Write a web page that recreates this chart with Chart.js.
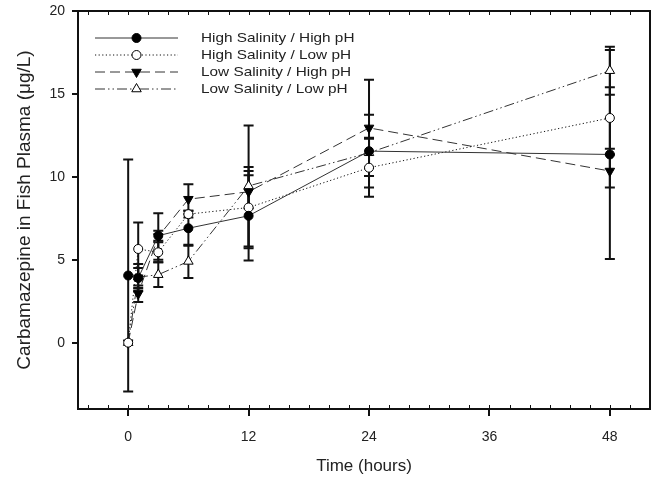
<!DOCTYPE html>
<html lang="en">
<head>
  <meta charset="utf-8"/>
  <title>Carbamazepine in Fish Plasma</title>
  <script src="https://cdn.jsdelivr.net/npm/chart.js"></script>
  <style>
    body { margin: 0; background: #fff; }
  </style>
</head>
<body>
  <canvas id="chart" width="661" height="485"></canvas>
  <script>
    // sampling times (hours)
    const times = [0, 1, 3, 6, 12, 24, 48];
    const xTickValues = [0, 12, 24, 36, 48];
    const yTickValues = [0, 5, 10, 15, 20];

    // means and error values
    const hsHighPH = [4.05, 3.9, 6.45, 6.9, 7.65, 11.55, 11.35];
    const hsHighPHErr = [7.0, 0.6, 0.3, 1.05, 2.7, 2.2, 6.3];
    const hsLowPH = [0, 5.65, 5.45, 7.75, 8.15, 10.55, 13.55];
    const hsLowPHErr = [0, 1.6, 0.6, 0.2, 2.45, 1.75, 1.85];
    const lsHighPH = [0, 2.95, 6.4, 8.65, 9.1, 12.95, 10.35];
    const lsHighPHErr = [0, 0.5, 1.4, 0.9, 1.0, 2.9, 1.0];
    const lsLowPH = [0, 3.95, 4.1, 4.9, 9.45, 11.45, 16.4];
    const lsLowPHErr = [0, 0.8, 0.75, 1.0, 3.65, 0.9, 1.45];

    const toPoints = vals => vals.map((v, i) => ({x: times[i], y: v}));
    const FONT = '"Liberation Sans", Arial, sans-serif';

    // vertical error bars with caps, drawn under the markers
    const errorBars = {
      id: 'errorBars',
      beforeDatasetsDraw(chart) {
        const ctx = chart.ctx;
        const xs = chart.scales.x, ys = chart.scales.y;
        ctx.save();
        ctx.strokeStyle = '#111';
        ctx.lineWidth = 2;
        ctx.setLineDash([]);
        chart.data.datasets.forEach(ds => {
          ds.data.forEach((p, j) => {
            const e = ds.errors[j];
            if (!e) return;
            const x = xs.getPixelForValue(p.x);
            const top = ys.getPixelForValue(p.y + e);
            const bot = ys.getPixelForValue(p.y - e);
            ctx.beginPath();
            ctx.moveTo(x, top); ctx.lineTo(x, bot);
            ctx.moveTo(x - 5, top); ctx.lineTo(x + 5, top);
            ctx.moveTo(x - 5, bot); ctx.lineTo(x + 5, bot);
            ctx.stroke();
          });
        });
        ctx.restore();
      }
    };

    // box frame plus sigmaplot-like tick marks
    const frame = {
      id: 'frame',
      afterDraw(chart) {
        const ctx = chart.ctx;
        const a = chart.chartArea;
        const xs = chart.scales.x, ys = chart.scales.y;
        ctx.save();
        ctx.strokeStyle = '#111';
        ctx.lineWidth = 2;
        ctx.strokeRect(a.left, a.top, a.right - a.left, a.bottom - a.top);
        ctx.lineWidth = 1;
        ctx.beginPath();
        for (let v = Math.ceil(xs.min / 2) * 2; v <= xs.max; v += 2) {
          const x = Math.round(xs.getPixelForValue(v)) + 0.5;
          ctx.moveTo(x, a.bottom); ctx.lineTo(x, a.bottom - 4);
          ctx.moveTo(x, a.top); ctx.lineTo(x, a.top + 4);
        }
        ctx.stroke();
        ctx.lineWidth = 2;
        ctx.beginPath();
        xTickValues.forEach(v => {
          const x = Math.round(xs.getPixelForValue(v));
          ctx.moveTo(x, a.bottom); ctx.lineTo(x, a.bottom + 7);
        });
        yTickValues.forEach(v => {
          const y = Math.round(ys.getPixelForValue(v));
          ctx.moveTo(a.left, y); ctx.lineTo(a.left - 6, y);
        });
        ctx.stroke();
        ctx.restore();
      }
    };

    // legend inside the plot: line sample with the marker in the middle
    const insideLegend = {
      id: 'insideLegend',
      afterDraw(chart) {
        const ctx = chart.ctx;
        const a = chart.chartArea;
        const x0 = a.left + 17, x1 = a.left + 100, tx = a.left + 123;
        ctx.save();
        chart.data.datasets.forEach((ds, i) => {
          const y = a.top + 27 + i * 17;
          ctx.strokeStyle = ds.borderColor;
          ctx.lineWidth = ds.borderWidth;
          ctx.setLineDash(ds.borderDash || []);
          ctx.beginPath();
          ctx.moveTo(x0, y); ctx.lineTo(x1, y);
          ctx.stroke();
          ctx.setLineDash([]);
          ctx.fillStyle = ds.pointBackgroundColor;
          ctx.strokeStyle = ds.pointBorderColor;
          ctx.lineWidth = ds.pointBorderWidth;
          Chart.helpers.drawPoint(ctx, {
            pointStyle: ds.pointStyle,
            radius: ds.pointRadius,
            rotation: ds.pointRotation || 0,
            borderWidth: ds.pointBorderWidth
          }, (x0 + x1) / 2, y);
          // the source figure's text is a bit wide, stretch it slightly
          ctx.save();
          ctx.translate(tx, y);
          ctx.scale(1.18, 1);
          ctx.fillStyle = '#222';
          ctx.font = '13px ' + FONT;
          ctx.textBaseline = 'middle';
          ctx.fillText(ds.label, 0, 0);
          ctx.restore();
        });
        ctx.restore();
      }
    };

    const lineBase = {
      borderColor: '#333',
      borderWidth: 1,
      pointBorderColor: '#000',
      pointBorderWidth: 1,
      fill: false,
      tension: 0
    };

    new Chart(document.getElementById('chart'), {
      type: 'line',
      data: {
        datasets: [
          Object.assign({}, lineBase, {
            label: 'High Salinity / High pH',
            data: toPoints(hsHighPH),
            errors: hsHighPHErr,
            pointStyle: 'circle',
            pointRadius: 4.5,
            pointBackgroundColor: '#000'
          }),
          Object.assign({}, lineBase, {
            label: 'High Salinity / Low pH',
            data: toPoints(hsLowPH),
            errors: hsLowPHErr,
            borderDash: [1.2, 2.4],
            borderColor: '#111',
            pointStyle: 'circle',
            pointRadius: 4.5,
            pointBackgroundColor: '#fff'
          }),
          Object.assign({}, lineBase, {
            label: 'Low Salinity / High pH',
            data: toPoints(lsHighPH),
            errors: lsHighPHErr,
            borderDash: [10, 5],
            pointStyle: 'triangle',
            pointRotation: 180,
            pointRadius: 5.5,
            pointBackgroundColor: '#000'
          }),
          Object.assign({}, lineBase, {
            label: 'Low Salinity / Low pH',
            data: toPoints(lsLowPH),
            errors: lsLowPHErr,
            borderDash: [10, 3, 1.5, 3, 1.5, 3],
            pointStyle: 'triangle',
            pointRadius: 5.5,
            pointBackgroundColor: '#fff'
          })
        ]
      },
      options: {
        responsive: false,
        devicePixelRatio: 1,
        animation: false,
        layout: { padding: { top: 11, right: 11, left: 0, bottom: 0 } },
        plugins: {
          legend: { display: false },
          tooltip: { enabled: false }
        },
        scales: {
          x: {
            type: 'linear',
            min: -5,
            max: 52,
            afterBuildTicks: s => { s.ticks = xTickValues.map(v => ({value: v})); },
            afterFit: s => { s.height = 76; s.paddingLeft = 0; s.paddingRight = 0; },
            grid: { display: false, drawTicks: false },
            border: { display: false },
            ticks: {
              padding: 20,
              color: '#222',
              font: { family: FONT, size: 14 }
            },
            title: {
              display: true,
              text: 'Time (hours)',
              color: '#222',
              padding: { top: 0, bottom: 8 },
              font: { family: FONT, size: 17 }
            }
          },
          y: {
            min: -4,
            max: 20,
            afterBuildTicks: s => { s.ticks = yTickValues.map(v => ({value: v})); },
            afterFit: s => { s.width = 78; s.paddingTop = 0; s.paddingBottom = 0; },
            grid: { display: false, drawTicks: false },
            border: { display: false },
            ticks: {
              padding: 13,
              color: '#222',
              font: { family: FONT, size: 14 }
            },
            title: {
              display: true,
              text: 'Carbamazepine in Fish Plasma (μg/L)',
              color: '#222',
              padding: { top: 13, bottom: 0 },
              font: { family: FONT, size: 19 }
            }
          }
        }
      },
      plugins: [errorBars, frame, insideLegend]
    });
  </script>
</body>
</html>
